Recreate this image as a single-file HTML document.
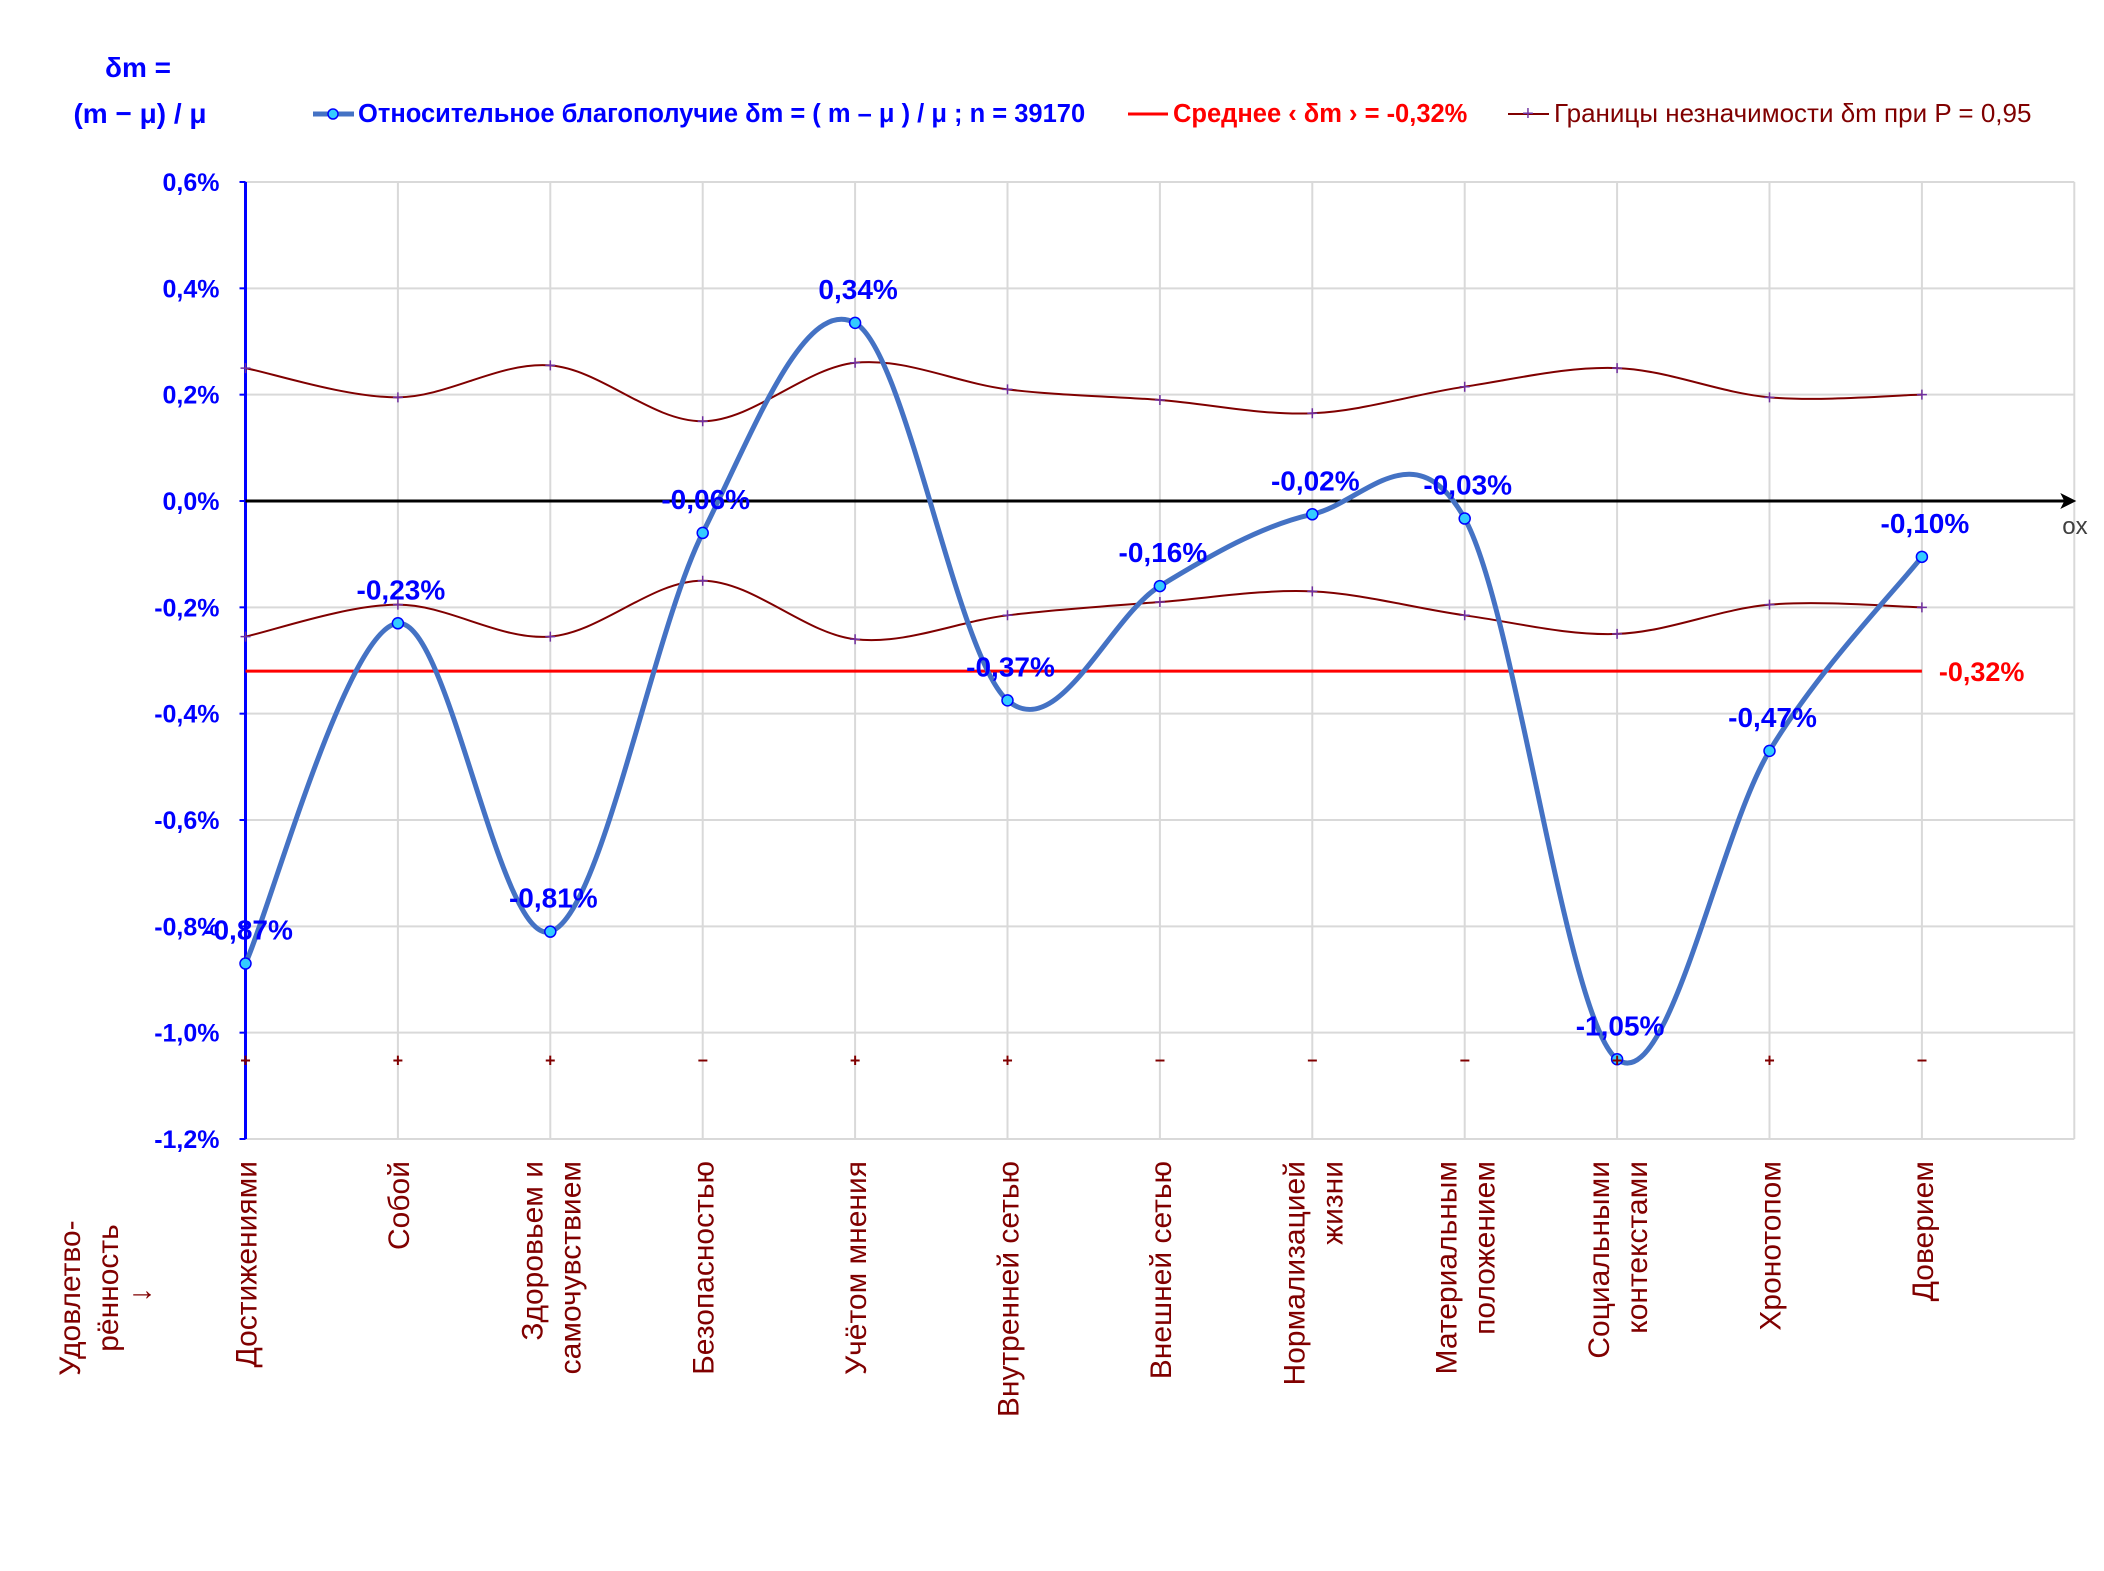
<!DOCTYPE html>
<html><head><meta charset="utf-8">
<style>
html,body{margin:0;padding:0;background:#fff}
svg{display:block;font-family:"Liberation Sans","DejaVu Sans",sans-serif}
</style></head>
<body>
<svg id="chart" width="2104" height="1571" viewBox="0 0 2104 1571" xmlns="http://www.w3.org/2000/svg">
  <g fill="#0000ff" font-weight="bold" font-size="28">
    <text x="138" y="77" text-anchor="middle">δm =</text>
    <text x="140" y="123" text-anchor="middle">(m − μ) / μ</text>
  </g>
  <g font-size="25.5">
    <g>
      <line x1="313" y1="114" x2="354" y2="114" stroke="#4472c4" stroke-width="5"/>
      <circle cx="333" cy="114" r="5" fill="#33ccff" stroke="#0000ff" stroke-width="1.5"/>
      <text x="358" y="122" fill="#0000ff" font-weight="bold">Относительное благополучие δm = ( m – μ ) / μ ; n = 39170</text>
    </g>
    <g>
      <line x1="1128" y1="114" x2="1168" y2="114" stroke="#ff0000" stroke-width="3"/>
      <text x="1173" y="122" fill="#ff0000" font-weight="bold">Среднее ‹ δm › = -0,32%</text>
    </g>
    <g>
      <line x1="1508" y1="114" x2="1549" y2="114" stroke="#800000" stroke-width="2"/>
      <text x="1528" y="120" fill="#7030a0" text-anchor="middle" font-size="20">+</text>
      <text x="1554" y="122" fill="#800000" font-size="26">Границы незначимости δm при P = 0,95</text>
    </g>
  </g>
  <g id="grid"></g>
  <g id="series"></g>
  <g id="labels"></g>
  <g fill="#800000" font-size="30">
    <text transform="translate(80,1298) rotate(-90)" text-anchor="middle">Удовлетво-</text>
    <text transform="translate(118,1288) rotate(-90)" text-anchor="middle">рённость</text>
    <text transform="translate(150,1295) rotate(-90)" text-anchor="middle">↓</text>
  </g>
</svg>
<script>
const categories = [["Достижениями"],["Собой"],["Здоровьем и","самочувствием"],["Безопасностью"],["Учётом мнения"],["Внутренней сетью"],["Внешней сетью"],["Нормализацией","жизни"],["Материальным","положением"],["Социальными","контекстами"],["Хронотопом"],["Доверием"]];
const values = [-0.87,-0.23,-0.81,-0.06,0.335,-0.375,-0.16,-0.025,-0.033,-1.05,-0.47,-0.105];
const valueLabels = ["-0,87%","-0,23%","-0,81%","-0,06%","0,34%","-0,37%","-0,16%","-0,02%","-0,03%","-1,05%","-0,47%","-0,10%"];
const upperBound = [0.25,0.195,0.255,0.15,0.26,0.21,0.19,0.165,0.215,0.25,0.195,0.2];
const lowerBound = [-0.255,-0.195,-0.255,-0.15,-0.26,-0.215,-0.19,-0.17,-0.215,-0.25,-0.195,-0.2];
const signs = ["+","+","+","−","+","+","−","−","−","+","+","−"];
const meanValue = -0.32;
const yTicks = [0.6,0.4,0.2,0,-0.2,-0.4,-0.6,-0.8,-1.0,-1.2];
const yTickLabels = ["0,6%","0,4%","0,2%","0,0%","-0,2%","-0,4%","-0,6%","-0,8%","-1,0%","-1,2%"];

const NS="http://www.w3.org/2000/svg";
const X0=245.5, STEP=152.4, Y_TOP=182, Y_BOT=1139, VMAX=0.6, VMIN=-1.2, XR=X0+STEP*12;
const xs=i=>X0+i*STEP;
const ys=v=>Y_TOP+(VMAX-v)/(VMAX-VMIN)*(Y_BOT-Y_TOP);
function mk(tag,attrs,parent,txt){const e=document.createElementNS(NS,tag);for(const k in attrs)e.setAttribute(k,attrs[k]);if(txt!==undefined)e.textContent=txt;parent.appendChild(e);return e;}
const grid=document.getElementById('grid'), series=document.getElementById('series'), labels=document.getElementById('labels');

yTicks.forEach((t,i)=>{
  const l=mk('line',{x1:X0,x2:XR,y1:ys(t),y2:ys(t),stroke:'#d9d9d9','stroke-width':2},grid);
  
  
  const tk=mk('line',{x1:X0-6,x2:X0,y1:ys(t),y2:ys(t),stroke:'#0000ff','stroke-width':2},grid);
  
  
  const tx=mk('text',{x:X0-26,y:ys(t)+9,'text-anchor':'end',fill:'#0000ff','font-weight':'bold','font-size':25},labels,yTickLabels[i]);
  
  
});
for(let i=0;i<=12;i++){
  const l=mk('line',{x1:xs(i),x2:xs(i),y1:Y_TOP,y2:Y_BOT,stroke:'#d9d9d9','stroke-width':2},grid);
  
  
}
const ya=mk('line',{x1:X0,x2:X0,y1:Y_TOP,y2:Y_BOT,stroke:'#0000ff','stroke-width':3},grid);


const za=mk('line',{x1:X0,x2:XR-6,y1:ys(0),y2:ys(0),stroke:'#000','stroke-width':3},grid);


const ar=mk('path',{d:`M${XR+2},${ys(0)} L${XR-14},${ys(0)-8} L${XR-10},${ys(0)} L${XR-14},${ys(0)+8}Z`,fill:'#000'},grid);


const ox=mk('text',{x:XR-12,y:ys(0)+33,fill:'#404040','font-size':24},labels,'ox');



function smooth(vals){
  const p=vals.map((v,i)=>[xs(i),ys(v)]);
  let d=`M${p[0][0]},${p[0][1]}`;
  for(let i=0;i<p.length-1;i++){
    const p0=p[Math.max(0,i-1)],p1=p[i],p2=p[i+1],p3=p[Math.min(p.length-1,i+2)];
    const c1=[p1[0]+(p2[0]-p0[0])/6,p1[1]+(p2[1]-p0[1])/6];
    const c2=[p2[0]-(p3[0]-p1[0])/6,p2[1]-(p3[1]-p1[1])/6];
    d+=` C${c1[0]},${c1[1]} ${c2[0]},${c2[1]} ${p2[0]},${p2[1]}`;
  }
  return d;
}
[[upperBound,'upper-bound-line'],[lowerBound,'lower-bound-line']].forEach(([arr,name])=>{
  const pth=mk('path',{d:smooth(arr),fill:'none',stroke:'#800000','stroke-width':2},series);
  
  
  arr.forEach((v,i)=>{
    const m=mk('path',{d:`M${xs(i)-5},${ys(v)} h10 M${xs(i)},${ys(v)-5} v10`,stroke:'#7030a0','stroke-width':1.5},series);
    
    
  });
});
const ml=mk('line',{x1:X0,x2:xs(11),y1:ys(meanValue),y2:ys(meanValue),stroke:'#ff0000','stroke-width':3},series);


const mt=mk('text',{x:xs(11)+17,y:ys(meanValue)+10,fill:'#ff0000','font-weight':'bold','font-size':27},labels,'-0,32%');



signs.forEach((s,i)=>{
  const t=mk('text',{x:xs(i),y:ys(-1.05)+7,'text-anchor':'middle',fill:'#800000','font-weight':'bold','font-size':18},labels,s);
  
  
});

const mainLine=mk('path',{d:smooth(values),fill:'none',stroke:'#4472c4','stroke-width':5,'stroke-linejoin':'round'},series);


values.forEach((v,i)=>{
  const c=mk('circle',{cx:xs(i),cy:ys(v),r:5.5,fill:'#33ccff',stroke:'#0000ff','stroke-width':1.5},series);
  
  
  const t=mk('text',{x:xs(i)+3,y:ys(v)-24,'text-anchor':'middle',fill:'#0000ff','font-weight':'bold','font-size':28},labels,valueLabels[i]);
  
  
});

categories.forEach((lines,i)=>{
  const n=lines.length;
  lines.forEach((ln,j)=>{
    const dx=(j-(n-1)/2)*38;
    const t=mk('text',{transform:`translate(${xs(i)+dx+11},1161) rotate(-90)`,'text-anchor':'end',fill:'#800000','font-size':30},labels,ln);
    
    
  });
});
</script>
</body></html>
